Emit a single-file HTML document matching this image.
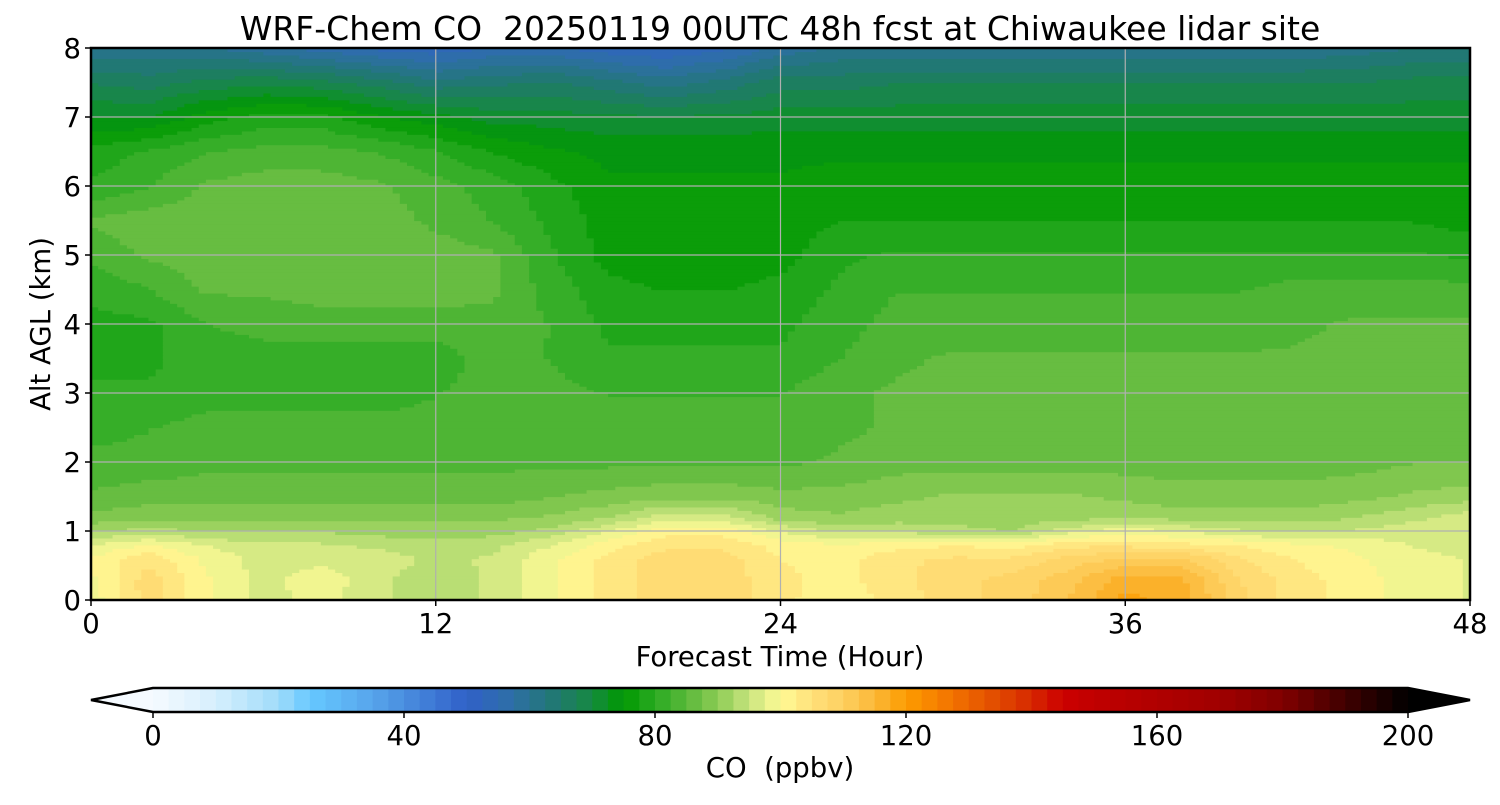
<!DOCTYPE html>
<html><head><meta charset="utf-8"><style>
html,body{margin:0;padding:0;background:#fff;}
svg text{font-family:"DejaVu Sans","Liberation Sans",sans-serif;fill:#000;white-space:pre;}
</style></head><body>
<svg id="chart" width="1500" height="800" viewBox="0 0 1500 800" xmlns="http://www.w3.org/2000/svg" xml:space="preserve">
<text x="780" y="40" font-size="33" text-anchor="middle">WRF-Chem CO  20250119 00UTC 48h fcst at Chiwaukee lidar site</text>
<g id="cells"></g>
<g id="grid"></g>
<rect x="91" y="48" width="1379" height="552" fill="none" stroke="#000" stroke-width="2.5"/>
<g id="xticks"></g>
<g id="yticks"></g>
<text x="780" y="666" font-size="27.5" text-anchor="middle">Forecast Time (Hour)</text>
<text transform="translate(50,324) rotate(-90)" font-size="27.5" text-anchor="middle">Alt AGL (km)</text>
<g id="cbar"></g>
<text x="780" y="777" font-size="27.5" text-anchor="middle">CO  (ppbv)</text>
</svg>
<script>
const hours=[0,2,4,6,8,10,12,14,16,18,20,22,24,26,28,30,32,34,36,38,40,42,44,46,48];
const alts=[0,0.3,0.6,0.8,1.0,1.2,1.5,2,2.5,3,3.5,4,4.5,5,5.5,6,6.5,7,7.5,8];
const co=[
[98,106,100,96,98,95,93,95,99,103,106,106,103,100,103,106,108,112,118,116,108,103,101,98,97],
[99,106,100,96,99,95,93,95,99,103,106,106,103,101,104,106,108,111,116,115,107,103,101,98,97],
[100,104,99,96,96,96,94,95,99,103,106,106,102,101,104,105,105,108,110,110,105,102,100,98,97],
[97,100,97,95,95,94,93,94,97,101,104,104,101,100,101,102,101,104,104,103,102,100,99,97,96],
[92,93,92,92,92,91,91,91,93,97,101,101,97,94,94,93,92,96,99,97,95,94,95,96,95],
[88,89,89,89,89,89,89,89,90,92,96,96,91,90,91,91,91,91,92,91,91,91,92,94,96],
[85,86,86,86,86,86,86,86,87,88,89,89,88,88,89,90,90,90,89,88,88,88,89,90,91],
[83,83,84,84,84,84,84,84,84,84,84,84,84,85,86,86,86,86,86,86,86,86,86,87,87],
[81,82,83,83,83,83,83,83,83,83,83,83,83,84,85,86,86,86,86,86,86,86,86,86,86],
[80,80,81,81,81,81,82,83,83,82,82,82,82,84,85,86,86,86,86,86,86,86,86,86,85],
[79,79,81,81,81,81,81,83,82,80,80,80,80,82,84,85,85,85,85,85,85,85,86,86,85],
[79,79,82,83,83,83,83,84,82,79,79,79,79,81,83,83,83,83,83,83,83,84,85,85,85],
[80,82,85,85,86,86,86,85,81,78,77,77,78,80,82,82,82,82,82,82,82,83,83,83,83],
[83,85,86,86,86,86,86,85,80,76,75,75,76,79,80,80,80,80,80,80,80,80,80,80,79],
[85,86,86,86,86,86,84,82,79,76,75,75,76,77,77,77,77,77,77,77,77,77,77,77,76],
[80,82,85,86,86,85,83,81,78,75,75,75,75,76,76,76,76,76,76,76,76,76,76,76,76],
[78,80,82,83,83,82,80,77,75,74,74,74,74,74,74,74,74,74,74,74,74,74,74,74,74],
[72,72,76,78,78,75,73,71,71,70,70,70,71,71,71,71,71,71,71,71,71,71,71,71,71],
[67,66,68,69,68,66,63,64,65,63,61,63,66,66,67,67,67,67,67,67,67,67,67,68,68],
[60,60,60,58,56,54,53,55,55,53,52,54,58,60,60,60,60,60,60,60,60,60,61,62,62]];
const xTicks=[0,12,24,36,48];
const yTicks=[0,1,2,3,4,5,6,7,8];
const cbTicks=[0,40,80,120,160,200];
const stopV=[0,10,20,25,35,50,57,65,70,75,80,85,90,95,100,105,110,115,120,125,130,135,140,145,150,160,170,180,190,200];
const stopC=["#f5faff","#d6effd","#a0dcfa","#66c8ff","#57a5eb","#3060c8","#2e6ea8","#1f7a6a","#158a40","#009900","#2aaa22","#5ab83a","#8ccc55","#c8e47e","#fffa96","#ffe07a","#fdd060","#fbb838","#fc9c00","#f78000","#ec6400","#e04800","#d62800","#cc0000","#c00000","#b00000","#a00000","#800000","#400000","#000000"];
const NS="http://www.w3.org/2000/svg";
const X0=91,X1=1470,Y0=600,Y1=48;
function xs(h){return X0+(h-0)/48*(X1-X0);}
function ys(a){return Y0-(a/8)*(Y0-Y1);}
function hex(c){return [1,3,5].map(i=>parseInt(c.substr(i,2),16));}
function colorAt(v){
 if(v<=stopV[0])return stopC[0];
 for(let i=1;i<stopV.length;i++){if(v<=stopV[i]){const t=(v-stopV[i-1])/(stopV[i]-stopV[i-1]);const a=hex(stopC[i-1]),b=hex(stopC[i]);return "rgb("+a.map((x,k)=>Math.round(x+(b[k]-x)*t)).join(",")+")";}}
 return stopC[stopC.length-1];}
function levelColor(v){const l=Math.floor(v/2.5);return colorAt(Math.min(200,Math.max(0,l*2.5+1.25)));}
function idx(arr,v){for(let i=0;i<arr.length-1;i++){if(v<=arr[i+1])return i;}return arr.length-2;}
function sample(h,a){const i=idx(hours,h),j=idx(alts,a);const tx=(h-hours[i])/(hours[i+1]-hours[i]),ty=(a-alts[j])/(alts[j+1]-alts[j]);
 const v00=co[j][i],v10=co[j][i+1],v01=co[j+1][i],v11=co[j+1][i+1];
 return v00*(1-tx)*(1-ty)+v10*tx*(1-ty)+v01*(1-tx)*ty+v11*tx*ty;}
const cells=document.getElementById('cells');
const NX=192,NY=160;
for(let r=0;r<NY;r++){
 const a0=r*8/NY,a1=(r+1)*8/NY,am=(a0+a1)/2;
 let start=0,prev=null;
 for(let c=0;c<=NX;c++){
  let col=null;
  if(c<NX){const hm=(c+0.5)*48/NX;col=levelColor(sample(hm,am)+0.4);}
  if(c===NX||(prev!==null&&col!==prev)){
   const h0=start*48/NX,h1=c*48/NX;
   const rc=document.createElementNS(NS,'rect');
   rc.setAttribute('x',xs(h0));rc.setAttribute('y',ys(a1));
   rc.setAttribute('width',xs(h1)-xs(h0)+0.6);rc.setAttribute('height',ys(a0)-ys(a1)+0.6);
   rc.setAttribute('fill',prev);
   
   
   cells.appendChild(rc);start=c;}
  prev=col;}
}
const grid=document.getElementById('grid');
xTicks.forEach(t=>{const l=document.createElementNS(NS,'line');l.setAttribute('x1',xs(t));l.setAttribute('x2',xs(t));l.setAttribute('y1',Y1);l.setAttribute('y2',Y0);l.setAttribute('stroke','#b0b0b0');l.setAttribute('stroke-width','1.2');
 
 
 grid.appendChild(l);});
yTicks.forEach(t=>{const l=document.createElementNS(NS,'line');l.setAttribute('x1',X0);l.setAttribute('x2',X1);l.setAttribute('y1',ys(t));l.setAttribute('y2',ys(t));l.setAttribute('stroke','#b0b0b0');l.setAttribute('stroke-width','1.2');
 
 
 grid.appendChild(l);});
const xg=document.getElementById('xticks');
xTicks.forEach(t=>{const l=document.createElementNS(NS,'line');l.setAttribute('x1',xs(t));l.setAttribute('x2',xs(t));l.setAttribute('y1',Y0);l.setAttribute('y2',Y0+6);l.setAttribute('stroke','#000');l.setAttribute('stroke-width','1.5');xg.appendChild(l);
 const tx=document.createElementNS(NS,'text');tx.setAttribute('x',xs(t));tx.setAttribute('y',Y0+33);tx.setAttribute('font-size','27.5');tx.setAttribute('text-anchor','middle');tx.textContent=t;
 
 
 xg.appendChild(tx);});
const yg=document.getElementById('yticks');
yTicks.forEach(t=>{const l=document.createElementNS(NS,'line');l.setAttribute('x1',X0-6);l.setAttribute('x2',X0);l.setAttribute('y1',ys(t));l.setAttribute('y2',ys(t));l.setAttribute('stroke','#000');l.setAttribute('stroke-width','1.5');yg.appendChild(l);
 const tx=document.createElementNS(NS,'text');tx.setAttribute('x',X0-10);tx.setAttribute('y',ys(t)+10);tx.setAttribute('font-size','27.5');tx.setAttribute('text-anchor','end');tx.textContent=t;
 
 
 yg.appendChild(tx);});
const cb=document.getElementById('cbar');
const CB0=153,CB1=1408,CBT=688,CBB=712;
function cx(v){return CB0+v/200*(CB1-CB0);}
const lt=document.createElementNS(NS,'polygon');lt.setAttribute('points',`${CB0},${CBT} 91,${(CBT+CBB)/2} ${CB0},${CBB}`);lt.setAttribute('fill',stopC[0]);


cb.appendChild(lt);
for(let v=0;v<200;v+=2.5){const r=document.createElementNS(NS,'rect');r.setAttribute('x',cx(v));r.setAttribute('y',CBT);r.setAttribute('width',cx(v+2.5)-cx(v)+0.5);r.setAttribute('height',CBB-CBT);r.setAttribute('fill',levelColor(v+0.1));
 
 
 cb.appendChild(r);}
const rt=document.createElementNS(NS,'polygon');rt.setAttribute('points',`${CB1},${CBT} 1470,${(CBT+CBB)/2} ${CB1},${CBB}`);rt.setAttribute('fill','#000');


cb.appendChild(rt);
const ol=document.createElementNS(NS,'polygon');ol.setAttribute('points',`${CB0},${CBT} 91,${(CBT+CBB)/2} ${CB0},${CBB} ${CB1},${CBB} 1470,${(CBT+CBB)/2} ${CB1},${CBT}`);ol.setAttribute('fill','none');ol.setAttribute('stroke','#000');ol.setAttribute('stroke-width','2.5');cb.appendChild(ol);
cbTicks.forEach(t=>{const l=document.createElementNS(NS,'line');l.setAttribute('x1',cx(t));l.setAttribute('x2',cx(t));l.setAttribute('y1',CBB);l.setAttribute('y2',CBB+6);l.setAttribute('stroke','#000');l.setAttribute('stroke-width','1.5');cb.appendChild(l);
 const tx=document.createElementNS(NS,'text');tx.setAttribute('x',cx(t));tx.setAttribute('y',CBB+33);tx.setAttribute('font-size','27.5');tx.setAttribute('text-anchor','middle');tx.textContent=t;
 
 
 cb.appendChild(tx);});
</script>
</body></html>
